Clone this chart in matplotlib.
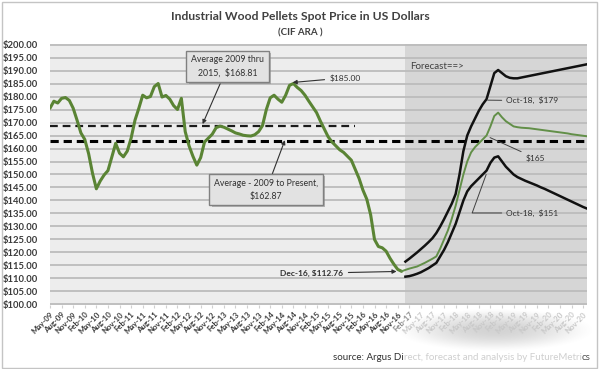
import matplotlib
matplotlib.use("Agg")
import matplotlib.pyplot as plt
import matplotlib.patheffects as pe
import numpy as np
import pandas as pd
from matplotlib.patches import Rectangle

plt.rcParams['font.family'] = ['Lato', 'DejaVu Sans']

# ---------------- data ----------------
months = pd.date_range("2009-05-01", periods=140, freq="MS")   # May-09 .. Dec-20
month_labels = [d.strftime("%b-%y") for d in months]
tick_step = 3

hist_price = [
    175.5, 178.2, 177.5, 179.3, 179.6, 178.5, 175.5, 170.9, 166.0, 163.5,
    158.0, 150.5, 144.5, 147.5, 149.8, 151.5, 156.7, 162.0, 158.2, 156.8,
    159.0, 164.0, 170.9, 175.5, 180.5, 179.5, 180.0, 183.8, 185.0, 179.8,
    180.4, 179.0, 176.5, 175.0, 179.3, 166.5, 161.0, 157.0, 153.6, 156.5,
    162.5, 164.0, 165.5, 168.0, 168.6, 168.2, 167.5, 166.8, 166.0, 165.6,
    165.1, 164.9, 164.8, 165.3, 166.5, 168.8, 175.0, 179.5, 180.5, 179.0,
    177.8, 180.5, 184.3, 185.0, 183.5, 182.3, 180.5, 178.2, 176.0, 173.8,
    170.5, 167.5, 164.5, 162.5, 161.0, 159.5, 158.5, 157.0, 155.5, 152.0,
    148.5, 144.0, 140.5, 134.5, 125.0, 122.3, 121.8, 120.5, 117.8, 115.5,
    113.5, 112.76,
]  # May-09 .. Dec-16

fc_mid = [
    112.76, 113.3, 113.8, 114.2, 114.6, 115.3, 116.0, 116.8, 117.6, 118.5,
    121.5, 125.0, 128.5, 133.0, 138.0, 144.0, 150.0, 155.0, 158.5, 160.5,
    162.0, 163.5, 165.0, 168.5, 172.5, 173.8, 172.0, 170.5, 169.5, 168.5,
    168.2, 168.0, 167.9, 167.8, 167.6, 167.4, 167.2, 167.0, 166.8, 166.6,
    166.4, 166.2, 166.0, 165.8, 165.5, 165.3, 165.1, 164.9, 164.7,
]  # Dec-16 .. Dec-20

fc_high = [
    116.5, 117.6, 118.8, 120.0, 121.3, 122.6, 124.0, 125.5, 127.5, 130.0,
    132.8, 135.8, 138.8, 142.5, 150.0, 159.0, 165.0, 168.5, 171.5, 174.5,
    177.0, 179.0, 184.0, 189.0, 190.2, 189.0, 187.8, 187.2, 187.0, 187.0,
    187.3, 187.6, 187.9, 188.2, 188.5, 188.8, 189.1, 189.4, 189.7, 190.0,
    190.3, 190.6, 190.9, 191.2, 191.5, 191.8, 192.1, 192.4,
]  # Jan-17 .. Dec-20

fc_low = [
    110.7, 110.9, 111.3, 111.8, 112.4, 113.2, 114.0, 115.0, 116.0, 118.5,
    121.0, 124.0, 127.5, 131.0, 135.5, 140.0, 143.5, 145.5, 147.0, 148.5,
    150.0, 151.5, 154.5, 156.5, 157.0, 155.0, 153.0, 151.5, 150.0, 149.0,
    148.3, 147.6, 147.0, 146.4, 145.8, 145.1, 144.5, 143.8, 143.1, 142.4,
    141.7, 141.0, 140.3, 139.6, 138.9, 138.2, 137.5, 136.9,
]  # Jan-17 .. Dec-20

avg_2009_2015 = 168.81
avg_2009_present = 162.87
avg_2015_end = 79          # Dec-15 index
forecast_start = 92        # Jan-17 index

x_hist = np.arange(len(hist_price))
x_mid = np.arange(91, 91 + len(fc_mid))
x_high = np.arange(92, 92 + len(fc_high))
x_low = np.arange(92, 92 + len(fc_low))

# ---------------- figure ----------------
fig = plt.figure(figsize=(6.0, 3.69), dpi=100)
fig.patch.set_facecolor('white')
fig.add_artist(Rectangle((0.003, 0.004), 0.992, 0.99, transform=fig.transFigure,
                         fill=False, ec='#c4c4c4', lw=1.0))

# soft smudge below forecast labels
sm = fig.add_axes([395/600, 1-352/369, 200/600, 44/369], zorder=0)
gx, gy = np.meshgrid(np.linspace(-1, 1, 200), np.linspace(-1, 1, 60))
alpha = np.clip(1 - (gx**2 + gy**2), 0, 1) ** 1.5 * 0.45
img = np.zeros((60, 200, 4)); img[..., :3] = 0.62; img[..., 3] = alpha
sm.imshow(img, aspect='auto', interpolation='bilinear')
sm.axis('off')

ax = fig.add_axes([50/600, 1-305/369, 537/600, 261/369], zorder=1)
ax.set_facecolor('#ededed')
ax.axvspan(forecast_start, 139, color='#d6d6d6', zorder=0.2, lw=0)
ax.set_xlim(0, 139)
ax.set_ylim(99.8, 200.2)
ax.set_yticks(np.arange(100, 201, 5))
ax.set_yticklabels([f"${v:.2f}" for v in np.arange(100, 201, 5)])
ax.yaxis.grid(True, color='#bcbcbc', lw=1.3)
ax.set_axisbelow(True)
for s in ax.spines.values():
    s.set_visible(False)
ax.tick_params(axis='y', length=0, pad=9, labelsize=6.8, labelcolor='#3a3a3a')
for t in ax.get_yticklabels():
    t.set_fontweight('bold')

tick_pos = np.arange(0, 139, tick_step)
ax.set_xticks(tick_pos)
ax.set_xticklabels([month_labels[i] for i in tick_pos], rotation=45, ha='right',
                   va='top', rotation_mode='anchor', fontsize=5.6, fontweight='bold')
ax.tick_params(axis='x', length=2, color='#d0d0d0', pad=2)
for p, t in zip(tick_pos, ax.get_xticklabels()):
    if p >= 96:
        t.set_color('#c8c8c8')
    elif p >= 93:
        t.set_color('#8a8a8a')
    else:
        t.set_color('#3a3a3a')

# average lines
ax.plot([0, avg_2015_end], [avg_2009_2015] * 2, color='#1a1a1a', lw=1.6,
        dashes=(3.5, 2.2), zorder=3)
ax.plot([0, 138.5], [avg_2009_present] * 2, color='#000000', lw=2.2,
        dashes=(2.7, 1.6), zorder=3)

# series
ax.plot(x_hist, hist_price, color='#5a8434', lw=2.2, zorder=4, solid_capstyle='round',
        solid_joinstyle='round')
ax.plot(x_mid, fc_mid, color='#628f48', lw=1.4, zorder=4, solid_joinstyle='round')
ax.plot(x_high, fc_high, color='#111111', lw=1.8, zorder=4, solid_joinstyle='round')
ax.plot(x_low, fc_low, color='#111111', lw=1.8, zorder=4, solid_joinstyle='round')

# annotations
shadow = [pe.SimplePatchShadow(offset=(1.5, -1.5), shadow_rgbFace='#8c8c8c', alpha=0.6),
          pe.Normal()]
box = dict(boxstyle='square,pad=0.55', fc='#e2e2e2', ec='#808080', lw=1.0)
a1 = ax.annotate("Average 2009 thru\n2015,  $168.81", xy=(39.5, 169.4), xytext=(46, 191.6),
                 ha='center', va='center', fontsize=6.3, color='#303030', bbox=box,
                 linespacing=1.5,
                 arrowprops=dict(arrowstyle='-|>', color='#303030', lw=0.8,
                                 mutation_scale=6, shrinkA=0, shrinkB=0), zorder=6)
a2 = ax.annotate("Average - 2009 to Present,\n$162.87", xy=(60.8, 163.2), xytext=(56, 144.1),
                 ha='center', va='center', fontsize=6.3, color='#303030', bbox=box,
                 linespacing=1.5,
                 arrowprops=dict(arrowstyle='-|>', color='#303030', lw=0.8,
                                 mutation_scale=6, shrinkA=0, shrinkB=0), zorder=6)
for a in (a1, a2):
    a.get_bbox_patch().set_path_effects(shadow)

ax.annotate("$185.00", xy=(62.8, 185.4), xytext=(72.5, 187.2), ha='left', va='center',
            fontsize=6, color='#303030',
            arrowprops=dict(arrowstyle='-|>', color='#303030', lw=0.8,
                            mutation_scale=6, shrinkA=2, shrinkB=0), zorder=6)
ax.annotate("Dec-16, $112.76", xy=(89.7, 112.7), xytext=(75.8, 112.0), ha='right',
            va='center', fontsize=6, fontweight='bold', color='#303030',
            arrowprops=dict(arrowstyle='-|>', color='#303030', lw=0.8,
                            mutation_scale=6, shrinkA=2, shrinkB=0), zorder=6)
ax.text(93.2, 191.6, "Forecast==>", fontsize=7, color='#404040', va='center', ha='left')
ax.annotate("Oct-18,  $179", xy=(113.3, 178.6), xytext=(118.0, 178.4), ha='left',
            va='center', fontsize=6, color='#303030',
            arrowprops=dict(arrowstyle='-', color='#404040', lw=0.7, shrinkA=1, shrinkB=0),
            zorder=6)
ax.annotate("$165", xy=(113.9, 164.2), xytext=(123.0, 156.4), ha='left', va='center',
            fontsize=6, color='#303030',
            arrowprops=dict(arrowstyle='-', color='#404040', lw=0.7, shrinkA=1, shrinkB=0),
            zorder=6)
ax.annotate("Oct-18,  $151", xy=(112.9, 150.0), xytext=(118.0, 135.2), ha='left',
            va='center', fontsize=6, color='#303030',
            arrowprops=dict(arrowstyle='-', color='#404040', lw=0.7, shrinkA=1, shrinkB=0,
                            connectionstyle='angle,angleA=0,angleB=70,rad=0'),
            zorder=6)

# titles
fig.text(0.5, 1-16/369, "Industrial Wood Pellets Spot Price in US Dollars", ha='center',
         va='center', fontsize=8.7, fontweight='bold', color='#404040')
fig.text(0.5, 1-33/369, "(CIF ARA )", ha='center', va='center', fontsize=7,
         fontweight='bold', color='#404040')

# source
t1 = fig.text(333/600, 1-358/369, "source: Argus Di", ha='left', va='center',
              fontsize=7.0, color='#303030')
t2 = plt.annotate("rect, forecast and analysis by FutureMetri", xy=(1, 0.5), xycoords=t1,
                  ha='left', va='center', fontsize=7.0, color='#cfcfcf',
                  annotation_clip=False)
t3 = plt.annotate("cs", xy=(1, 0.5), xycoords=t2, ha='left', va='center', fontsize=7.0,
                  color='#505050', annotation_clip=False)

fig.savefig("out.png", dpi=100, facecolor='white')
